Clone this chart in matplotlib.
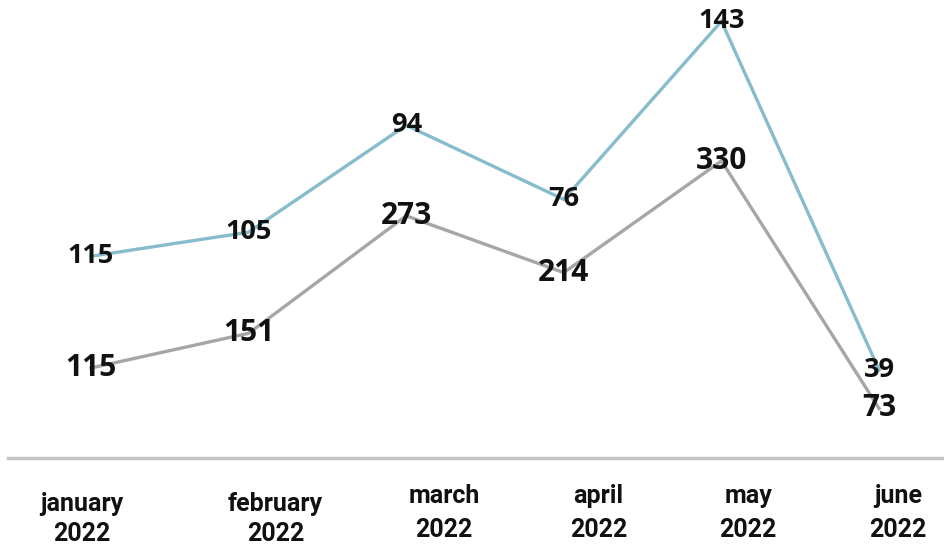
import matplotlib
matplotlib.use("Agg")
import matplotlib.pyplot as plt
import matplotlib.transforms as mtransforms

# ---- data ----
months = ["january", "february", "march", "april", "may", "june"]
years = ["2022", "2022", "2022", "2022", "2022", "2022"]
gray_values = [115, 151, 273, 214, 330, 73]
blue_labels = [115, 105, 94, 76, 143, 39]
# positions of the blue line read on the same vertical scale as the gray line
blue_positions = [231, 256, 367, 290, 475, 113]

# ---- style ----
BLUE = "#86bccb"
GRAY = "#a6a6a6"
TEXT = "#111111"
num_font = ["Open Sans", "DejaVu Sans"]
lab_font = ["Roboto", "DejaVu Sans"]

fig = plt.figure(figsize=(9.44, 5.47), dpi=100)
ax = fig.add_axes([0, 0, 1, 1])
ax.set_xlim(-0.577, 5.412)
ax.set_ylim(-70.9, 497.1)
ax.axis("off")

x = list(range(len(months)))
ax.plot(x, blue_positions, color=BLUE, lw=2.4, solid_joinstyle="miter", zorder=2)
ax.plot(x, gray_values, color=GRAY, lw=2.4, solid_joinstyle="miter", zorder=2)

for xi, yi, lab in zip(x, blue_positions, blue_labels):
    ax.text(xi, yi, str(lab), ha="center", va="center", fontsize=19.5,
            fontweight="bold", family=num_font, color=TEXT, zorder=3)
for xi, yi in zip(x, gray_values):
    ax.text(xi, yi, str(yi), ha="center", va="center", fontsize=21.5,
            fontweight="bold", family=num_font, color=TEXT, zorder=3)

# baseline
ax.axhline(21.5, xmin=8 / 944, xmax=1, color="#c4c4c4", lw=2.5, zorder=1)

# category labels (two lines)
trans = mtransforms.blended_transform_factory(ax.transData, fig.transFigure)
label_dx = [-0.06, 0.17, 0.24, 0.22, 0.17, 0.12]
label_dy = [0, 0, 8, 8, 8, 8]
for xi, m, yr, dx, dy in zip(x, months, years, label_dx, label_dy):
    ax.text(xi + dx, 1 - (504 - dy) / 547, m, ha="center", va="center",
            fontsize=18, fontweight="bold", family=lab_font, color=TEXT,
            transform=trans)
    ax.text(xi + dx, 1 - (534 - dy * 0.5) / 547, yr, ha="center", va="center",
            fontsize=18, fontweight="bold", family=lab_font, color=TEXT,
            transform=trans)

fig.savefig("out.png", dpi=100, facecolor="white")
